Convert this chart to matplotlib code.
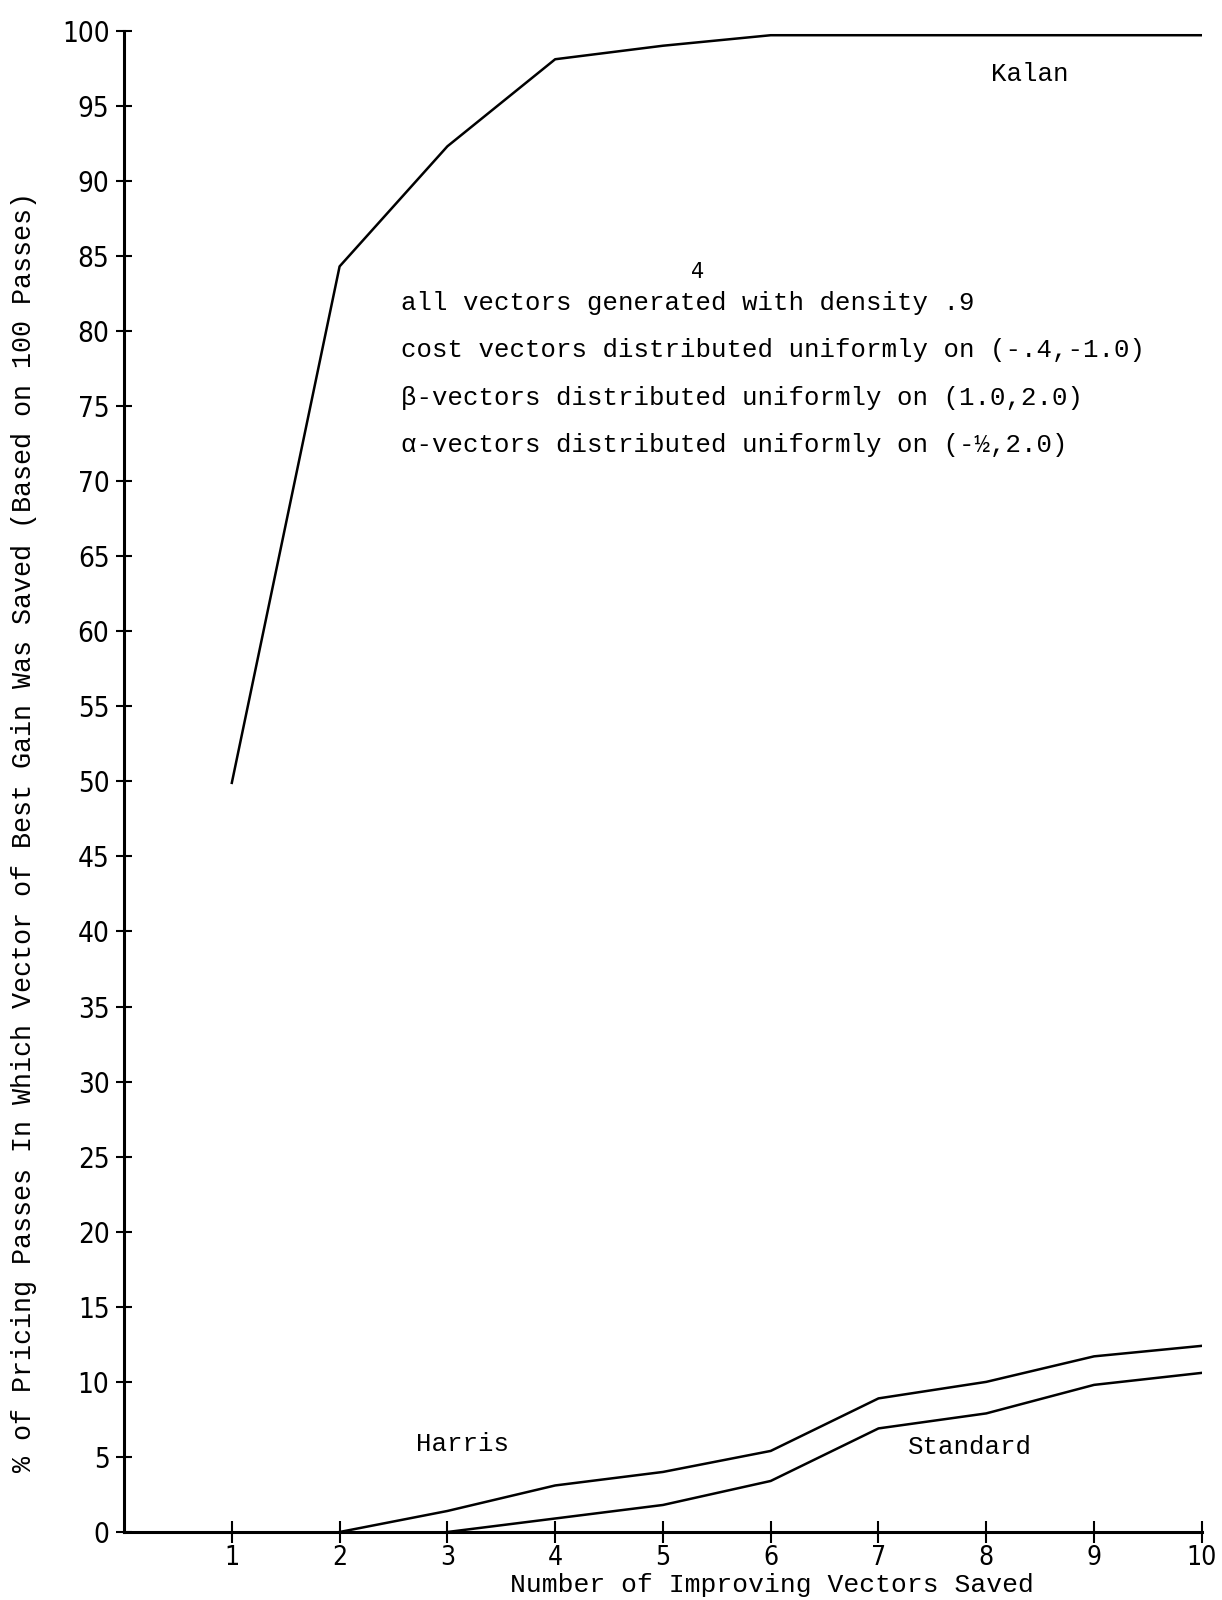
import matplotlib
matplotlib.use("Agg")
import matplotlib.pyplot as plt

# values
kalan_x = [1, 2, 3, 4, 5, 6, 7, 8, 9, 10]
kalan_y = [49.9, 84.3, 92.3, 98.1, 99.0, 99.7, 99.7, 99.7, 99.7, 99.7]
harris_x = [2, 3, 4, 5, 6, 7, 8, 9, 10]
harris_y = [0.0, 1.4, 3.1, 4.0, 5.4, 8.9, 10.0, 11.7, 12.4]
standard_x = [3, 4, 5, 6, 7, 8, 9, 10]
standard_y = [0.0, 0.9, 1.8, 3.4, 6.9, 7.9, 9.8, 10.6]

y_ticks = list(range(0, 101, 5))
x_ticks = list(range(1, 11))

notes = [
    "all vectors generated with density .9",
    "cost vectors distributed uniformly on (-.4,-1.0)",
    "\u03b2-vectors distributed uniformly on (1.0,2.0)",
    "\u03b1-vectors distributed uniformly on (-\u00bd,2.0)",
]

mono = ["Liberation Mono", "DejaVu Sans Mono"]

fig = plt.figure(figsize=(12.22, 16), dpi=100)
ax = fig.add_axes([0.1015, 0.0425, 0.882, 0.9383])

ax.plot(kalan_x, kalan_y, color="black", lw=1.8)
ax.plot(harris_x, harris_y, color="black", lw=1.8)
ax.plot(standard_x, standard_y, color="black", lw=1.8)

ax.set_xlim(0, 10)
ax.set_ylim(0, 100)
ax.spines["top"].set_visible(False)
ax.spines["right"].set_visible(False)
ax.spines["left"].set_linewidth(2.2)
ax.spines["bottom"].set_linewidth(2.2)
ax.set_xticks(x_ticks)
ax.set_xticklabels([str(v) for v in x_ticks], family="DejaVu Sans",
                   stretch="condensed", fontsize=19)
ax.set_yticks(y_ticks)
ax.set_yticklabels([str(v) for v in y_ticks], family="DejaVu Sans",
                   stretch="condensed", fontsize=20)
ax.tick_params(axis="x", direction="inout", length=16.5, width=1.5, pad=1)
ax.tick_params(axis="y", direction="inout", length=11, width=1.5, pad=5)

for i, line in enumerate(notes):
    ax.text(2.57, 81.86 - 3.16 * i, line, family=mono, fontsize=18.5,
            va="center", ha="left")
ax.text(5.32, 83.9, "4", family="DejaVu Sans", fontsize=15, ha="center",
        va="center")

ax.text(8.04, 97.15, "Kalan", family=mono, fontsize=18.5, va="center")
ax.text(2.71, 5.86, "Harris", family=mono, fontsize=18.5, va="center")
ax.text(7.27, 5.66, "Standard", family=mono, fontsize=18.5, va="center")

fig.text(0.632, 0.0095, "Number of Improving Vectors Saved", family=mono,
         fontsize=19, ha="center", va="center")
fig.text(0.020, 0.48,
         "% of Pricing Passes In Which Vector of Best Gain Was Saved (Based on 100 Passes)",
         family=mono, fontsize=19.3, rotation=90, ha="center", va="center")

fig.savefig("out.png", dpi=100)
